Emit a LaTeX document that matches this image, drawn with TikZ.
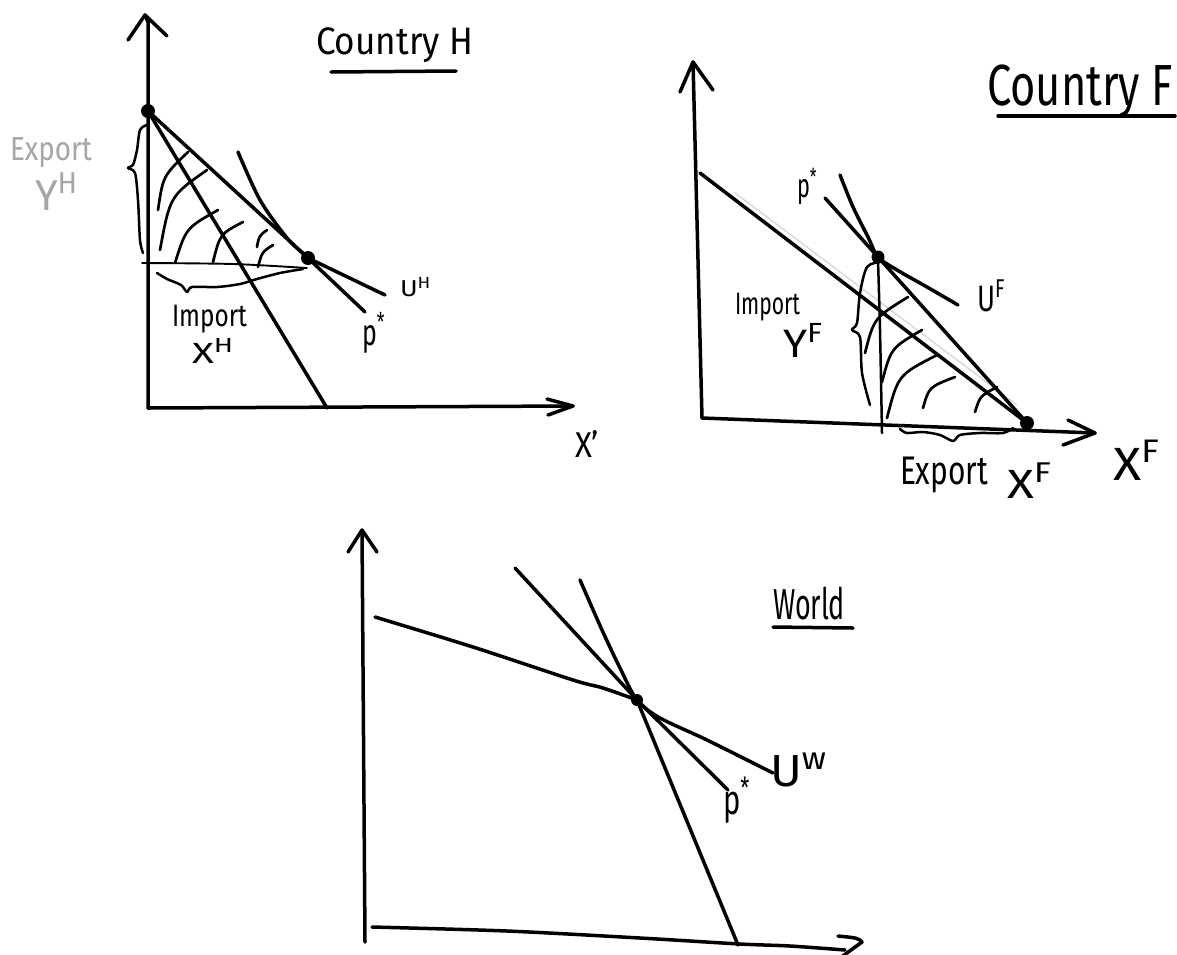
\documentclass[tikz,border=0pt]{standalone}
\usepackage{fontspec}
\setmainfont{Fira Sans}
\usepackage{graphicx}
\begin{document}
\begin{tikzpicture}[x=1pt,y=-1pt,
  ink/.style={line width=3.5pt,line cap=round,line join=round},
  thinink/.style={line width=2.5pt,line cap=round,line join=round},
  hairink/.style={line width=1.9pt,line cap=round,line join=round},
  hatch/.style={line width=2.7pt,line cap=round},
  ghost/.style={line width=1.4pt,gray!30,line cap=round},
  lbl/.style={inner sep=0pt,outer sep=0pt,anchor=north west,font=\fontsize{24}{28}\selectfont},
  glbl/.style={lbl,text=gray!70}]
\useasboundingbox (0,0) rectangle (1177,954);
\fill[white] (0,0) rectangle (1177,954);

% ================= Country H =================
\coordinate (H0) at (148,408);
\coordinate (Htop) at (145,15);
\coordinate (Hx) at (573,406);
\coordinate (HA) at (148,111);
\coordinate (HB) at (308,258);
\coordinate (HC) at (327,408);
\coordinate (HD) at (385,295);

\draw[ink] (H0) -- (148,22) -- (Htop);
\draw[ink] (128,40) -- (Htop) -- (167,36);
\draw[ink] (H0) -- (Hx);
\draw[ink] (547,399) -- (Hx) -- (548,415);
\draw[ink] (HA) -- (HC);
\draw[ink] (HA) -- (HB) -- (HD);
\draw[ink] plot[smooth] coordinates {(238,152) (260,200) (287,238) (308,258) (365,312)};
\draw[hairink] plot[smooth] coordinates {(142,263) (233,264) (307,268)};
% brace below (import)
\draw[thinink] plot[smooth] coordinates {(157,273) (167,279) (181,285) (187,292) (192,287) (217,287) (240,284) (257,279) (280,273) (303,269)};
% brace left (export)
\draw[thinink] plot[smooth] coordinates {(147,125) (140,130) (137,150) (133,165) (128,168) (135,173) (138,200) (140,240) (143,253)};
% hatching
\draw[hatch] (158,210) .. controls (163,176) .. (188,152);
\draw[hatch] (160,250) .. controls (170,196) .. (207,170);
\draw[hatch] (175,263) .. controls (186,228) .. (218,210);
\draw[hatch] (213,262) .. controls (220,234) .. (243,222);
\draw[hatch] (257,247) .. controls (259,236) .. (267,230);
\draw[hatch] (258,267) .. controls (262,252) .. (273,245);
\fill (HA) circle[radius=7pt];
\fill (HB) circle[radius=7pt];

\node[lbl] (tH) at (316,28) {\resizebox*{157pt}{35pt}{Country H}};
\draw[ink] (331,72) -- (456,71);
\node[glbl] (expH) at (10,138) {\resizebox*{82pt}{30pt}{Export}};
\node[glbl] (yH) at (35,173) {\resizebox*{43pt}{37pt}{Y\textsuperscript{H}}};
\node[lbl] (impH) at (172,305) {\resizebox*{75pt}{28pt}{Import}};
\node[lbl] (xH) at (192,338) {\resizebox*{42pt}{25pt}{X\textsuperscript{H}}};
\node[lbl] (uH) at (400,277) {\resizebox*{31pt}{20pt}{U\textsuperscript{H}}};
\node[lbl] (pH) at (362,312) {\resizebox*{23pt}{41pt}{p\textsuperscript{*}}};
\node[lbl] (axH) at (575,430) {\resizebox*{24pt}{27pt}{X'}};

% ================= Country F =================
\coordinate (F0) at (702,418);
\coordinate (Ftop) at (693,62);
\coordinate (Fx) at (1095,433);
\coordinate (FA) at (700,173);
\coordinate (FB) at (878,257);
\coordinate (FC) at (1027,423);
\coordinate (FP) at (825,198);

\draw[ghost] (735,193) -- (1017,405);
\draw[ink] (F0) -- (Ftop);
\draw[ink] (680,92) -- (Ftop) -- (713,90);
\draw[ink] (F0) -- (Fx);
\draw[ink] (1068,420) -- (Fx) -- (1063,445);
\draw[ink] (FA) -- (FC);
\draw[ink] (FP) -- (FB) -- (FC);
\draw[ink] plot[smooth] coordinates {(840,175) (853,207) (868,237) (878,257) (897,270) (927,287) (958,305)};
\draw[thinink] plot[smooth] coordinates {(878,260) (880,330) (882,433)};
% brace left (import)
\draw[thinink] plot[smooth] coordinates {(880,262) (867,267) (860,293) (857,323) (852,330) (860,337) (862,373) (870,405)};
% brace below (export)
\draw[thinink] plot[smooth] coordinates {(900,429) (907,433) (923,432) (940,435) (953,441) (960,435) (980,433) (1003,433) (1013,428)};
% hatching
\draw[hatch] (865,353) .. controls (874,318) .. (908,297);
\draw[hatch] (882,382) .. controls (891,348) .. (922,330);
\draw[hatch] (887,418) .. controls (898,375) .. (937,355);
\draw[hatch] (923,408) .. controls (929,387) .. (955,377);
\draw[hatch] (975,412) .. controls (980,396) .. (997,387);
\fill (FB) circle[radius=6.5pt];
\fill (FC) circle[radius=7pt];

\node[lbl] (tF) at (987,65) {\resizebox*{186pt}{53pt}{Country F}};
\draw[ink] (998,116) -- (1175,116);
\node[lbl] (impF) at (735,293) {\resizebox*{65pt}{28pt}{Import}};
\node[lbl] (yF) at (783,323) {\resizebox*{40pt}{34pt}{Y\textsuperscript{F}}};
\node[lbl] (uF) at (977,280) {\resizebox*{28pt}{32pt}{U\textsuperscript{F}}};
\node[lbl] (pF) at (797,168) {\resizebox*{20pt}{37pt}{p\textsuperscript{*}}};
\node[lbl] (expF) at (900,457) {\resizebox*{88pt}{36pt}{Export}};
\node[lbl] (xF) at (1007,463) {\resizebox*{45pt}{35pt}{X\textsuperscript{F}}};
\node[lbl] (axF) at (1113,440) {\resizebox*{47pt}{40pt}{X\textsuperscript{F}}};

% ================= World =================
\coordinate (W0) at (365,942);
\coordinate (Wtop) at (362,530);
\coordinate (Wx) at (862,942);
\coordinate (WA) at (375,617);
\coordinate (WB) at (637,700);
\coordinate (WC) at (738,945);
\coordinate (WP) at (515,568);
\coordinate (WQ) at (728,790);

\draw[ink] (W0) -- (Wtop);
\draw[ink] (348,552) -- (Wtop) -- (377,552);
\draw[ink] plot[smooth] coordinates {(372,927) (507,931) (640,938) (740,944) (790,946) (845,950)};
\draw[ink] (838,936) .. controls (858,938) .. (Wx) -- (840,958);
\draw[ink] plot[smooth] coordinates {(WA) (473,647) (573,680) (603,688) (WB)};
\draw[ink] (WB) -- (WC);
\draw[ink] (WP) -- (WB) -- (WQ);
\draw[ink] plot[smooth] coordinates {(580,580) (602,630) (620,668) (WB) (660,718) (707,740) (773,773)};
\fill (WB) circle[radius=6pt];

\node[lbl] (tW) at (773,587) {\resizebox*{72pt}{33pt}{World}};
\draw[ink] (773,627) -- (853,628);
\node[lbl] (uW) at (770,753) {\resizebox*{57pt}{34pt}{U\textsuperscript{w}}};
\node[lbl] (pW) at (723,777) {\resizebox*{27pt}{46pt}{p\textsuperscript{*}}};
\end{tikzpicture}
\end{document}
